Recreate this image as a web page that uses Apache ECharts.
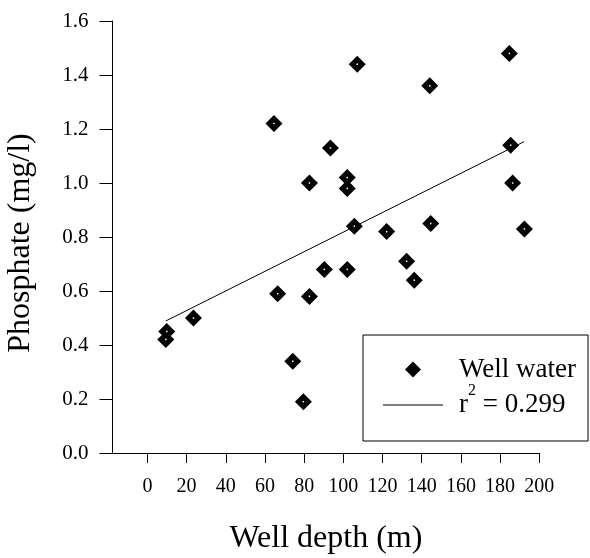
<!DOCTYPE html>
<html>
<head>
<meta charset="utf-8">
<script src="https://cdn.jsdelivr.net/npm/echarts@6/dist/echarts.min.js"></script>
<style>
html,body{margin:0;padding:0;background:#fff;}
#chart{width:590px;height:558px;}
</style>
</head>
<body>
<div id="chart"></div>
<script>
// Well depth (m) of each sampled well
const depth = [107.1, 184.7, 144.1, 64.6, 93.4, 82.7, 102.0, 102.0, 185.4, 186.4, 192.4, 105.6, 122.1, 144.6, 90.3, 102.0, 132.3, 136.2, 66.5, 82.7, 74.2, 79.6, 9.9, 9.4, 23.5];
// Phosphate (mg/l) of each sampled well
const phosphate = [1.44, 1.48, 1.36, 1.22, 1.13, 1.00, 1.02, 0.98, 1.14, 1.00, 0.83, 0.84, 0.82, 0.85, 0.68, 0.68, 0.71, 0.64, 0.59, 0.58, 0.34, 0.19, 0.45, 0.42, 0.50];
// Regression line end points
const fitDepth = [9.4, 192.2];
const fitPhosphate = [0.489, 1.153];
// Tick values
const xTicks = [0, 20, 40, 60, 80, 100, 120, 140, 160, 180, 200];
const yTicks = [0, 0.2, 0.4, 0.6, 0.8, 1.0, 1.2, 1.4, 1.6];
const seriesNames = ['Well water', 'r2'];
const fitLabel = ['r', '2', ' = 0.299'];
const xTitle = 'Well depth (m)';
const yTitle = 'Phosphate (mg/l)';

const FONT = 'Liberation Serif';
const pts = depth.map((d, i) => [d, phosphate[i]]);
const fitPts = fitDepth.map((d, i) => [d, fitPhosphate[i]]);

const chart = echarts.init(document.getElementById('chart'), null, {renderer: 'canvas'});
chart.setOption({
  animation: false,
  backgroundColor: '#fff',
  grid: {left: 112.5, right: 50.7, top: 21, bottom: 105, containLabel: false, outerBoundsMode: 'none'},
  xAxis: {
    type: 'value',
    min: -17.8,
    max: 200,
    name: xTitle,
    nameLocation: 'middle',
    nameGap: 70,
    nameTextStyle: {fontFamily: FONT, fontSize: 32, color: '#000'},
    axisLine: {show: true, onZero: false, lineStyle: {color: '#000', width: 1}},
    axisTick: {show: true, inside: false, length: 10, customValues: xTicks, lineStyle: {color: '#000', width: 1}},
    axisLabel: {show: true, customValues: xTicks, margin: 24, fontFamily: FONT, fontSize: 20, color: '#000'},
    splitLine: {show: false}
  },
  yAxis: {
    type: 'value',
    min: yTicks[0],
    max: yTicks[yTicks.length - 1],
    interval: 0.2,
    name: yTitle,
    nameLocation: 'middle',
    nameGap: 76,
    nameTextStyle: {fontFamily: FONT, fontSize: 32, color: '#000', padding: [0, 12, 0, 0]},
    axisLine: {show: true, onZero: false, lineStyle: {color: '#000', width: 1}},
    axisTick: {show: true, inside: false, length: 13, lineStyle: {color: '#000', width: 1}},
    axisLabel: {margin: 24, fontFamily: FONT, fontSize: 21, color: '#000', formatter: v => v.toFixed(1)},
    splitLine: {show: false}
  },
  legend: {
    orient: 'vertical',
    left: 363,
    top: 335,
    padding: [21, 12, 14, 20],
    itemGap: 0,
    itemWidth: 60,
    itemHeight: 16,
    symbolKeepAspect: true,
    borderColor: '#000',
    borderWidth: 1,
    borderRadius: 0,
    data: [
      {name: seriesNames[0], icon: 'path://M8,0L16,8L8,16L0,8Z'},
      {name: seriesNames[1], icon: 'path://M0,0H60V1H0Z'}
    ],
    formatter: function (name) {
      if (name === seriesNames[0]) return '{w|' + name + '}';
      return '{r|' + fitLabel[0] + '}{s|' + fitLabel[1] + '}{a|' + fitLabel[2] + '}';
    },
    textStyle: {
      fontFamily: FONT, fontSize: 27, color: '#000',
      rich: {
        w: {fontFamily: FONT, fontSize: 27, color: '#000', lineHeight: 26, padding: [0, 0, 0, 11]},
        r: {fontFamily: FONT, fontSize: 27, color: '#000', lineHeight: 44, padding: [0, 0, 0, 11]},
        a: {fontFamily: FONT, fontSize: 27, color: '#000', lineHeight: 44},
        s: {fontFamily: FONT, fontSize: 16, color: '#000', lineHeight: 16, padding: [0, 0, 28, 0]}
      }
    }
  },
  series: [
    {
      name: seriesNames[0],
      type: 'scatter',
      data: pts,
      symbol: 'diamond',
      symbolSize: 17,
      itemStyle: {color: '#000', opacity: 1},
      z: 5
    },
    {
      name: 'centre dots',
      type: 'scatter',
      data: pts,
      symbol: 'rect',
      symbolSize: 1.5,
      silent: true,
      itemStyle: {color: '#fff', opacity: 1},
      z: 6
    },
    {
      name: seriesNames[1],
      type: 'line',
      data: fitPts,
      symbol: 'none',
      showSymbol: false,
      lineStyle: {color: '#000', width: 1},
      itemStyle: {color: '#000'},
      z: 3
    }
  ]
});
</script>
</body>
</html>
